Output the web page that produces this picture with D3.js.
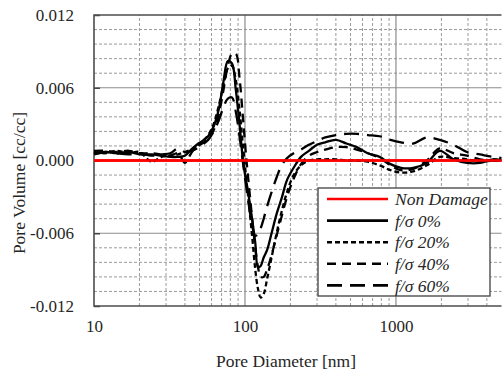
<!DOCTYPE html>
<html>
<head>
<meta charset="utf-8">
<script src="https://cdn.jsdelivr.net/npm/d3@7"></script>
<style>
  body { margin: 0; background: #fff; }
  svg text { font-family: "Liberation Serif", Tinos, "Times New Roman", serif !important; }
</style>
</head>
<body>
<div id="chart"></div>
<script>
// pore diameter grid [nm], shared by every series
const diameters = [10, 12, 14, 17, 20, 24, 28, 32, 36, 40, 44, 48, 52, 57, 62, 67, 72, 77, 82, 87, 92, 97,
  102, 107, 112, 117, 122, 127, 133, 140, 150, 162, 175, 190, 210, 235, 265, 300, 340, 400, 470, 550,
  650, 780, 920, 1080, 1300, 1600, 1950, 2400, 2950, 3600, 4400, 5000];

const fs0 = [0.0006, 0.0007, 0.0006, 0.0007, 0.0005, 0.0005, 0.0004, 0.0003, 0.0003, 0.0004, 0.0009, 0.0013,
  0.0016, 0.0020, 0.0028, 0.0042, 0.0065, 0.0082, 0.0080, 0.0058, 0.0030, 0.0000, -0.0018, -0.0033, -0.0050,
  -0.0068, -0.0088, -0.0087, -0.0080, -0.0074, -0.0060, -0.0044, -0.0031, -0.0016, -0.0006, 0.0003, 0.0008,
  0.0013, 0.0015, 0.0017, 0.0014, 0.0011, 0.0006, 0.0003, -0.0003, -0.0006, -0.0006, -0.0002, 0.0008, 0.0001,
  -0.0002, -0.0002, 0.0001, 0.0000];

const fs20 = [0.0007, 0.0006, 0.0008, 0.0006, 0.0007, -0.0001, 0.0003, 0.0004, 0.0005, 0.0007, 0.0009, 0.0011,
  0.0015, 0.0021, 0.0030, 0.0045, 0.0062, 0.0076, 0.0078, 0.0066, 0.0042, 0.0012, -0.0015, -0.0040, -0.0065,
  -0.0090, -0.0106, -0.0113, -0.0110, -0.0098, -0.0080, -0.0060, -0.0042, -0.0026, -0.0012, -0.0004, 0.0000,
  0.0001, 0.0001, 0.0001, 0.0000, 0.0000, -0.0001, -0.0004, -0.0008, -0.0010, -0.0009, -0.0004, 0.0003, 0.0002,
  0.0001, -0.0001, 0.0000, 0.0000];

const fs40 = [0.0008, 0.0008, 0.0007, 0.0008, 0.0006, 0.0006, 0.0005, 0.0004, 0.0006, -0.0002, 0.0006, 0.0012,
  0.0014, 0.0018, 0.0025, 0.0038, 0.0058, 0.0078, 0.0088, 0.0088, 0.0068, 0.0035, 0.0002, -0.0025, -0.0050,
  -0.0072, -0.0088, -0.0096, -0.0096, -0.0090, -0.0078, -0.0062, -0.0046, -0.0030, -0.0015, -0.0003, 0.0004,
  0.0007, 0.0009, 0.0011, 0.0011, 0.0009, 0.0006, 0.0002, -0.0004, -0.0008, -0.0007, 0.0000, 0.0010, 0.0006,
  0.0004, 0.0001, 0.0000, 0.0000];

const fs60 = [0.0005, 0.0007, 0.0006, 0.0005, 0.0006, 0.0004, 0.0005, 0.0006, 0.0010, 0.0007, 0.0008, 0.0010,
  0.0013, 0.0017, 0.0024, 0.0033, 0.0044, 0.0051, 0.0052, 0.0040, 0.0020, -0.0002, -0.0022, -0.0040, -0.0055,
  -0.0062, -0.0061, -0.0056, -0.0048, -0.0038, -0.0026, -0.0014, -0.0004, 0.0002, 0.0006, 0.0009, 0.0013,
  0.0016, 0.0019, 0.0021, 0.0022, 0.0022, 0.0021, 0.0020, 0.0017, 0.0015, 0.0014, 0.0019, 0.0017, 0.0013,
  0.0007, 0.0005, 0.0003, 0.0002];

const nonDamage = diameters.map(() => 0);

const seriesNames = ["Non Damage", "f/\u03c3 0%", "f/\u03c3 20%", "f/\u03c3 40%", "f/\u03c3 60%"];
const seriesValues = [nonDamage, fs0, fs20, fs40, fs60];

const yTicks = [-0.012, -0.006, 0, 0.006, 0.012];
const xTicks = [10, 100, 1000];

const width = 502, height = 374;
const margin = {top: 15, right: 0, bottom: 68, left: 94};
const serif = '"Liberation Serif", Tinos, "Times New Roman", serif';
const textColor = "#262626";

const styles = [
  {color: "#ff0000", dash: null, w: 2.4},
  {color: "#000", dash: null, w: 2.3},
  {color: "#000", dash: "5,3", w: 2.3},
  {color: "#000", dash: "9,6", w: 2.3},
  {color: "#000", dash: "15,8", w: 2.3}
];

const svg = d3.select("#chart").append("svg")
  .attr("width", width)
  .attr("height", height)
  .style("font-family", serif);

const x = d3.scaleLog().domain([10, 5000]).range([margin.left, 501.5]);
const y = d3.scaleLinear().domain([-0.012, 0.012]).range([306, margin.top]);

const grid = svg.append("g");

// minor grid, dashed
const xMinor = [];
[10, 100, 1000].forEach(dec => { for (let k = 2; k <= 9; k++) if (dec * k < 5000) xMinor.push(dec * k); });
grid.selectAll(".xminor").data(xMinor).enter().append("line")
  .attr("x1", d => x(d)).attr("x2", d => x(d))
  .attr("y1", y(-0.012)).attr("y2", y(0.012))
  .attr("stroke", "#9a9a9a").attr("stroke-width", 1).attr("stroke-dasharray", "3,2");

const yMinor = d3.range(-0.012, 0.0121, 0.0012).filter(v => Math.abs(Math.round(v * 1e4) % 60) !== 0);
grid.selectAll(".yminor").data(yMinor).enter().append("line")
  .attr("x1", x(10)).attr("x2", x(5000))
  .attr("y1", d => y(d)).attr("y2", d => y(d))
  .attr("stroke", "#9a9a9a").attr("stroke-width", 1).attr("stroke-dasharray", "3,2");

// major grid, solid
grid.selectAll(".xmajor").data([100, 1000]).enter().append("line")
  .attr("x1", d => x(d)).attr("x2", d => x(d))
  .attr("y1", y(-0.012)).attr("y2", y(0.012))
  .attr("stroke", "#8c8c8c").attr("stroke-width", 1.2);
grid.selectAll(".ymajor").data([-0.006, 0, 0.006]).enter().append("line")
  .attr("x1", x(10)).attr("x2", x(5000))
  .attr("y1", d => y(d)).attr("y2", d => y(d))
  .attr("stroke", "#8c8c8c").attr("stroke-width", 1.2);

// axes
const yAxis = d3.axisLeft(y).tickValues(yTicks).tickSize(-6).tickPadding(20)
  .tickFormat(d => d3.format(".3f")(d).replace("\u2212", "-"));
const gy = svg.append("g").attr("transform", `translate(${margin.left},0)`).call(yAxis)
  .attr("font-family", serif);
gy.select(".domain").remove();
gy.selectAll("line").attr("stroke", "#444").attr("stroke-width", 1.5);
gy.selectAll("text").attr("font-size", 17).attr("fill", textColor);

const xAxis = d3.axisBottom(x).tickValues(xTicks).tickSize(0).tickPadding(14).tickFormat(d3.format("d"));
const gx = svg.append("g").attr("transform", `translate(0,306)`).call(xAxis)
  .attr("font-family", serif);
gx.select(".domain").remove();
gx.selectAll("text").attr("font-size", 17).attr("fill", textColor);

// plot frame (left, top, bottom)
svg.append("path")
  .attr("d", `M${x(5000)},${y(0.012)}H${x(10)}V${y(-0.012)}H${x(5000)}`)
  .attr("fill", "none").attr("stroke", "#4d4d4d").attr("stroke-width", 1.6);

// series
const line = d3.line()
  .x(d => x(d[0]))
  .y(d => y(d[1]))
  .curve(d3.curveCatmullRom.alpha(0.5));

const plot = svg.append("g");
seriesValues.forEach((vals, i) => {
  const pts = diameters.map((d, j) => [d, vals[j]]);
  plot.append("path")
    .datum(pts)
    .attr("d", line)
    .attr("fill", "none")
    .attr("stroke", styles[i].color)
    .attr("stroke-width", styles[i].w)
    .attr("stroke-dasharray", styles[i].dash)
    .attr("stroke-linejoin", "round");
});
// red line drawn over the rest, as in the original
plot.append("path").datum(diameters.map(d => [d, 0])).attr("d", line)
  .attr("fill", "none").attr("stroke", "#ff0000").attr("stroke-width", 2.4);

// legend
const lg = svg.append("g").attr("transform", "translate(318,188)");
lg.append("rect").attr("width", 172).attr("height", 108)
  .attr("fill", "#fff").attr("stroke", "#4d4d4d").attr("stroke-width", 1.4);
const rows = lg.selectAll(".row").data(seriesNames).enter().append("g")
  .attr("transform", (d, i) => `translate(0,${11 + i * 21.6})`);
rows.append("line")
  .attr("x1", 9).attr("x2", 70)
  .attr("stroke", (d, i) => styles[i].color)
  .attr("stroke-width", (d, i) => styles[i].w + 0.3)
  .attr("stroke-dasharray", (d, i) => styles[i].dash);
rows.append("text")
  .attr("x", 77).attr("dy", "0.35em")
  .attr("font-size", 17.5).attr("font-style", "italic").attr("fill", textColor)
  .text(d => d);

// axis titles
svg.append("text")
  .attr("x", 286).attr("y", 367)
  .attr("text-anchor", "middle").attr("font-size", 17.5).attr("fill", textColor)
  .text("Pore Diameter [nm]");
svg.append("text")
  .attr("transform", "translate(25,183) rotate(-90)")
  .attr("text-anchor", "middle").attr("font-size", 17.5).attr("fill", textColor)
  .text("Pore Volume [cc/cc]");
</script>
</body>
</html>
